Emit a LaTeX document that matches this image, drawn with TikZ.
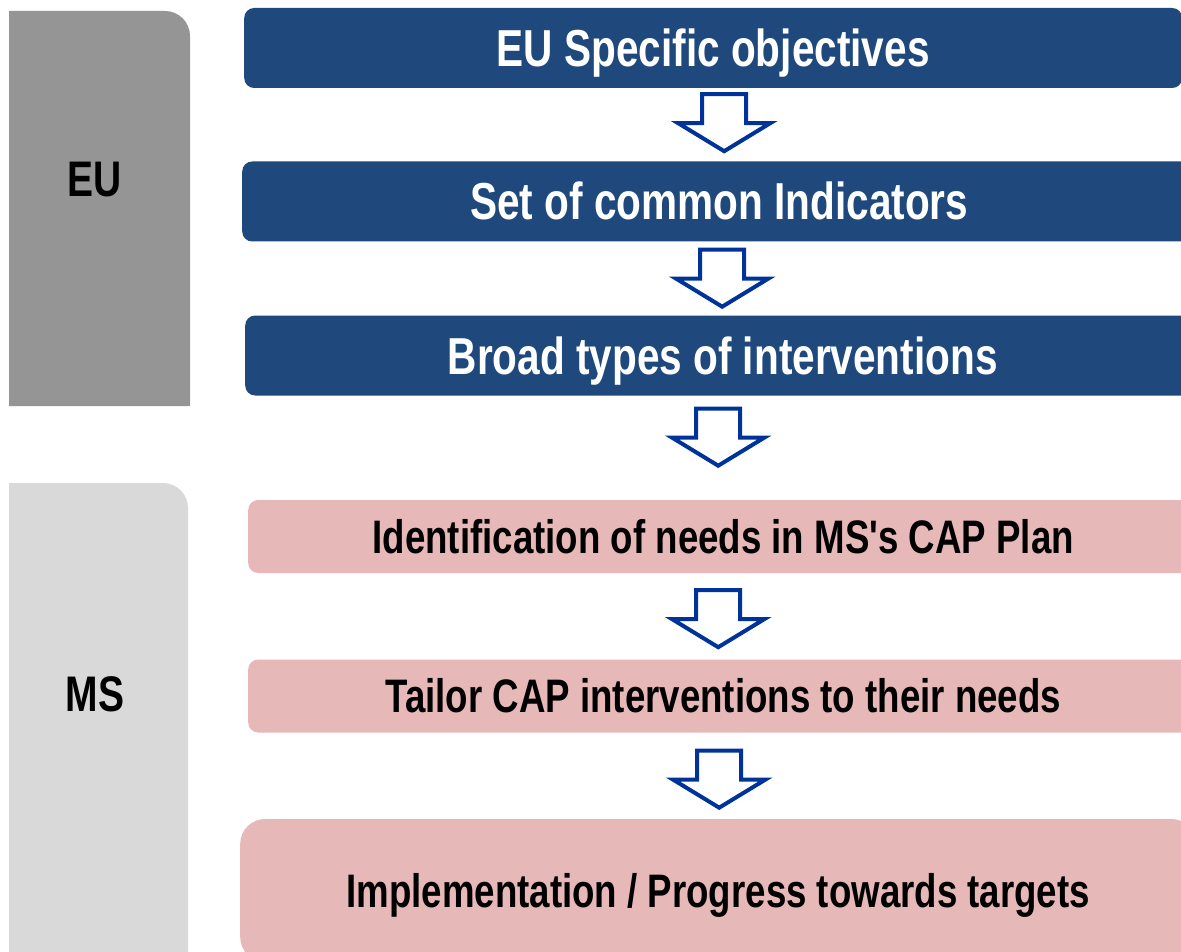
\documentclass[tikz,border=0pt]{standalone}
\usepackage{fontspec}
\setmainfont[FakeStretch=0.78, Ligatures=TeXOff]{Liberation Sans}
\usetikzlibrary{positioning, calc}

\definecolor{eublue}{RGB}{31,73,125}
\definecolor{arrowblue}{RGB}{0,51,153}
\definecolor{mspink}{RGB}{230,184,183}
\definecolor{eugrey}{RGB}{149,149,149}
\definecolor{msgrey}{RGB}{217,217,217}

\tikzset{
  bluebox/.style={fill=eublue, rounded corners=10pt, text=white, inner sep=0pt,
    font=\fontsize{52}{56}\selectfont\bfseries, minimum height=80pt,
    text height=37pt, text depth=0pt, anchor=west},
  pinkbox/.style={fill=mspink, rounded corners=10pt, inner sep=0pt,
    font=\fontsize{47}{51}\selectfont\bfseries, minimum height=73pt,
    text height=33pt, text depth=0pt, anchor=west},
  sidelabel/.style={font=\fontsize{50}{54}\selectfont\bfseries,
    text height=36pt, text depth=0pt, inner sep=0pt},
  downarrow/.pic={
    \draw[arrowblue, line width=4pt, fill=white]
      (-22,0) -- (22,0) -- (22,-29) -- (46,-29) -- (0,-57) -- (-46,-29) -- (-22,-29) -- cycle;
  }
}

\begin{document}
\begin{tikzpicture}[x=1pt, y=1pt]
  \clip (0,0) rectangle (1181,-952);
  \fill[white] (0,0) rectangle (1181,-952);
  % side bands
  \fill[eugrey] (9,-406) -- (9,-11) [rounded corners=25pt] -- (190,-11) [sharp corners] -- (190,-406) -- cycle;
  \fill[msgrey] (9,-960) -- (9,-483) [rounded corners=25pt] -- (188,-483) [sharp corners] -- (188,-960) -- cycle;
  \node[sidelabel] (eu) at (95,-179) {EU};
  \node[sidelabel] (ms) at (95,-693) {MS};
  % EU level
  \node[bluebox, minimum width=938pt] (obj) at (244,-48) {EU Specific objectives};
  \node[bluebox, minimum width=954pt] (ind) at (242,-201.5) {Set of common Indicators};
  \node[bluebox, minimum width=955pt] (types) at (245,-355.5) {Broad types of interventions};
  % MS level
  \node[pinkbox, minimum width=950pt] (needs) at (248,-536.5) {Identification of needs in MS's CAP Plan};
  \node[pinkbox, minimum width=950pt] (tailor) at (248,-696) {Tailor CAP interventions to their needs};
  \node[pinkbox, minimum width=956pt, minimum height=143pt, rounded corners=25pt, text height=33pt] (impl) at (240,-890.5) {Implementation / Progress towards targets};
  % arrows
  \pic at ([shift={(11,-6)}]obj.south) {downarrow};
  \pic at ([shift={(3,-8)}]ind.south) {downarrow};
  \pic at ([shift={(-4.5,-13)}]types.south) {downarrow};
  \pic at ([shift={(-5,-17)}]needs.south) {downarrow};
  \pic at ([shift={(-4,-18)}]tailor.south) {downarrow};
\end{tikzpicture}
\end{document}
